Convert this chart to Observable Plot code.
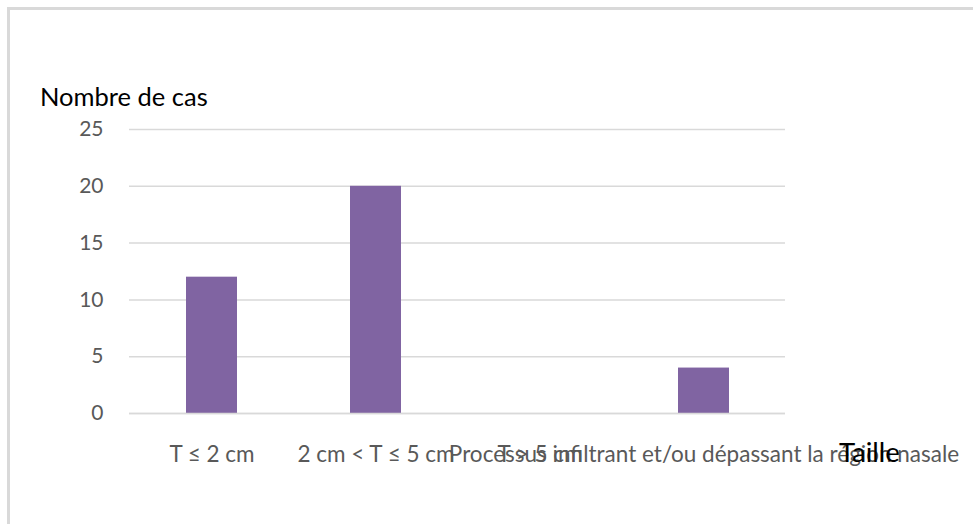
<!DOCTYPE html>
<html>
<head>
<meta charset="utf-8">
<script src="https://cdn.jsdelivr.net/npm/d3@7"></script>
<script src="https://cdn.jsdelivr.net/npm/@observablehq/plot@0.6"></script>
<style>
  html, body { margin: 0; padding: 0; background: #fff; overflow: hidden; }
  #wrap { position: relative; width: 973px; height: 524px; font-family: Lato, "Liberation Sans", sans-serif; }
  #frame { position: absolute; left: 7px; top: 7px; width: 1100px; height: 1100px; border: 3px solid #d9d9d9; box-sizing: border-box; }
  #chart { position: absolute; left: 0; top: 0; }
  .lbl { position: absolute; color: #000; white-space: nowrap; line-height: 1; }
  #ylab { left: 40px; top: 84px; font-size: 25.5px; }
  #xlab { left: 839px; top: 438px; font-size: 27.5px; }
</style>
</head>
<body>
<div id="wrap">
  <div id="frame"></div>
  <div id="chart"></div>
  <div class="lbl" id="ylab">Nombre de cas</div>
  <div class="lbl" id="xlab">Taille</div>
</div>
<script>
const categories = ["T ≤ 2 cm", "2 cm < T ≤ 5 cm", "T > 5 cm", "Processus infiltrant et/ou dépassant la région nasale"];
const counts = [12, 20, 0, 4];
const yTicks = [0, 5, 10, 15, 20, 25];

const data = categories.map((c, i) => ({cat: c, n: counts[i]}));

const chart = Plot.plot({
  width: 973,
  height: 524,
  marginLeft: 129,
  marginRight: 188,
  marginTop: 129,
  marginBottom: 111,
  style: {fontFamily: "Lato, 'Liberation Sans', sans-serif", background: "transparent"},
  x: {domain: categories, paddingInner: 0.69, paddingOuter: 0.345, label: null},
  y: {domain: [0, 25], label: null},
  marks: [
    Plot.ruleY(yTicks, {stroke: "#d9d9d9", strokeWidth: 1.5}),
    Plot.barY(data, {x: "cat", y: "n", fill: "#8064a2"}),
    Plot.ruleY([0], {stroke: "#d9d9d9", strokeWidth: 1.5}),
    Plot.axisY({ticks: yTicks, tickSize: 0, tickPadding: 26, fontSize: 21, fill: "#595959", label: null}),
    Plot.axisX({tickSize: 0, tickPadding: 33, fontSize: 22.5, fill: "#595959", label: null, textOverflow: null})
  ]
});
document.getElementById("chart").appendChild(chart);
</script>
</body>
</html>
